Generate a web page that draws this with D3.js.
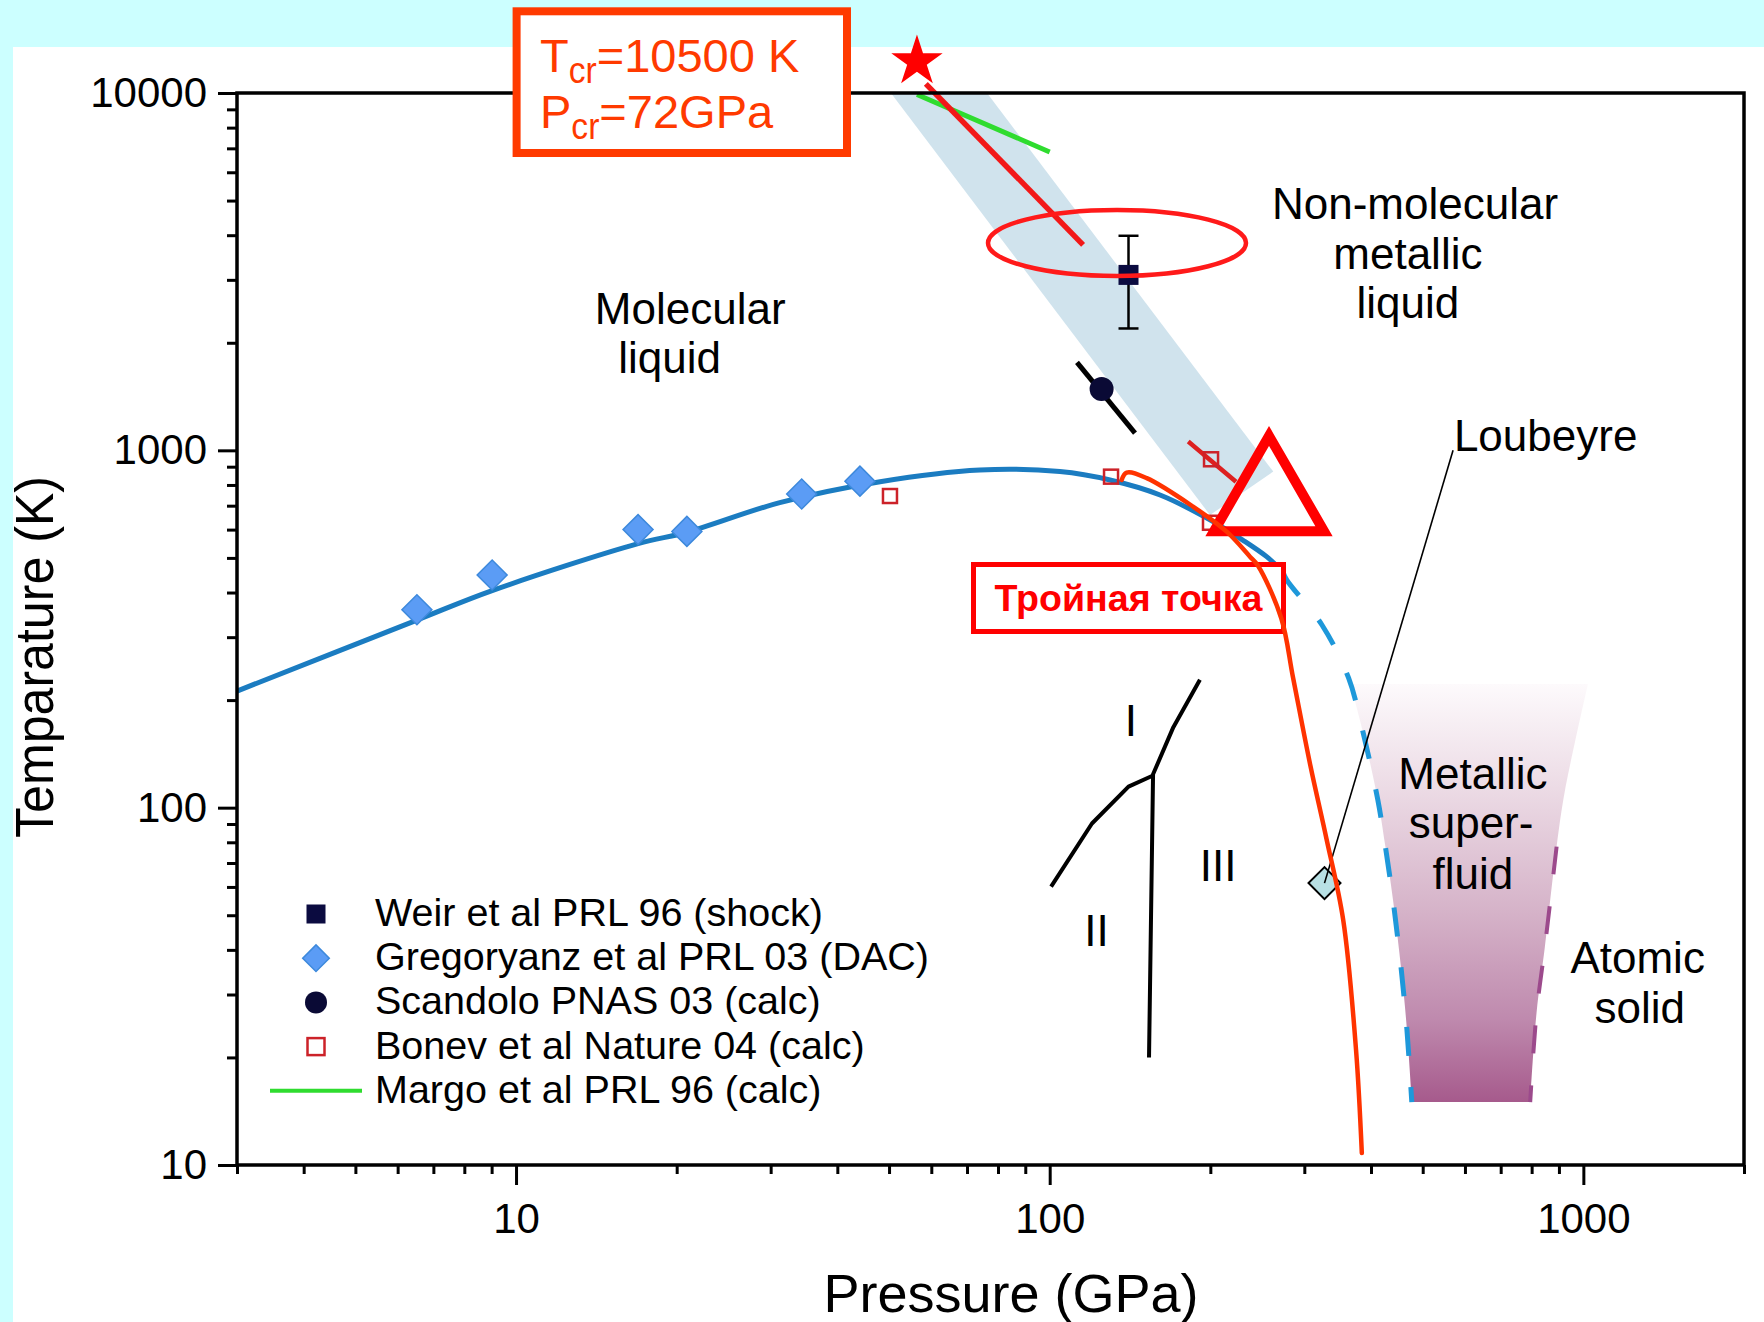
<!DOCTYPE html>
<html><head><meta charset="utf-8">
<script src="https://cdn.jsdelivr.net/npm/d3@7"></script>
<style>
body{margin:0;background:#ccffff;}
svg{display:block;}
text{font-family:"Liberation Sans",Arial,Helvetica,sans-serif;}
</style>
</head><body>
<svg id="c" width="1764" height="1322"></svg>
<script>
// ---------------- data ----------------
const xMajorTicks = [10, 100, 1000];
const xMinorTicks = [3,4,5,6,7,8,9,20,30,40,50,60,70,80,90,200,300,400,500,600,700,800,900,2000];
const yMajorTicks = [10, 100, 1000, 10000];
const yMinorTicks = [20,30,40,50,60,70,80,90,200,300,400,500,600,700,800,900,2000,3000,4000,5000,6000,7000,8000,9000];

// melting line (solid part and dashed extrapolation), [P GPa, T K]
const meltingSolid = [[3,212],[6.52,335],[9.02,405],[16.93,548],[20.9,590],[31.2,714],[48.1,817],[74,881],[104.5,872],[129.7,826],[161,750],[199.7,639],[230,561],[255,504],[273.5,457]];
const meltingDashed = [[273.5,457],[278,434],[324,324],[363,231],[386,164],[412,105],[425,79],[440,55],[456,35],[467,24],[477,15]];
// orange-red curve
const orangeCurve = [[136.4,826],[139.4,866],[152,836],[185.6,696],[214.6,592],[237.3,504],[245.5,476],[271.6,339],[285.8,231],[308,131],[330,82],[354.8,48.5],[375,21],[384.5,10.8]];
// shaded band (liquid-liquid transition)
const bandPoly = [[50.4,10000],[76.3,10000],[262.4,872],[199.7,659]];
// metallic superfluid region
const superfluidLeft = [[366,222],[386,164],[412,105],[425,79],[440,55],[456,35],[467,24],[477,15]];
const superfluidRight = [[795,15],[817,26.6],[847,40.8],[891,77.8],[924,112],[1020,222]];
const superfluidDashed = [[891,77.8],[847,40.8],[817,26.6],[795,15]];
// solid phase boundaries
const phaseI_III = [[191.2,228],[170.5,168],[156.2,124],[153.5,20]];
const phaseI_II = [[100.6,60.1],[120,90.3],[140.5,114.5],[156.2,123]];
// experimental / calc points
const gregoryanz = [[6.52,358],[9.02,448],[16.93,600],[20.9,593],[34.3,755],[44.1,820]];
const weir = [[140.5,3097,2193,3985]]; // P, T, Tlow, Thigh
const scandolo = [[125.1,1485]];
const scandoloLine = [[112.5,1762],[144.5,1117]];
const bonev = [[50.2,745],[130.3,844],[200.6,944],[199.7,627]];
const bonevLine = [[181.8,1058],[223.4,817]];
const margo = [[56.4,9900],[100,6840]];
const criticalLine = [[58.6,10605],[115.5,3760]];
const criticalPoint = [[56.4,12250]];
const loubeyre = [[327.3,61.5]];
const loubeyreLeader = [[327.3,61.5],[570,1000]];
const triplePoint = [[257.6,729]];
const ellipseCenter = [[133.7,3806]];

// region labels: text, P, T, anchor
const regionLabels = [
  ["Molecular",21.2,2258,"middle"],["liquid",19.4,1647,"middle"],
  ["Non-molecular",483.6,4426,"middle"],["metallic",469,3227,"middle"],["liquid",469,2347,"middle"],
  ["Loubeyre",572,998,"start"],
  ["Metallic",621,113.1,"middle"],["super-",616,82.4,"middle"],["fluid",621,59.4,"middle"],
  ["Atomic",1264,34.4,"middle"],["solid",1276,24.9,"middle"],
  ["I",142,158.7,"middle"],["II",122.4,40.9,"middle"],["III",206.8,62.4,"middle"]
];
const legendItems = ["Weir et al PRL 96 (shock)","Gregoryanz et al PRL 03 (DAC)","Scandolo PNAS 03 (calc)","Bonev et al Nature 04 (calc)","Margo et al PRL 96 (calc)"];

// ---------------- drawing ----------------
const W = 1764, H = 1322;
const svg = d3.select("#c");
const FONT = "'Liberation Sans',Arial,Helvetica,sans-serif";
svg.append("rect").attr("width",W).attr("height",H).attr("fill","#ccffff");
svg.append("rect").attr("x",13).attr("y",47).attr("width",W-13).attr("height",H-47).attr("fill","#ffffff");

const x = d3.scaleLog().domain([3,2000]).range([237,1744]);
const y = d3.scaleLog().domain([10,10000]).range([1165,93]);

const defs = svg.append("defs");
const grad = defs.append("linearGradient").attr("id","pinkGrad").attr("gradientUnits","userSpaceOnUse")
  .attr("x1",0).attr("x2",0).attr("y1",y(222)).attr("y2",y(15));
[[0,"#fdfafc"],[0.25,"#ecdbe5"],[0.55,"#d5b2c8"],[0.8,"#bf8aae"],[1,"#a65a8c"]].forEach(s=>{
  grad.append("stop").attr("offset",s[0]).attr("stop-color",s[1]);
});

const lin = d3.line().x(d=>x(d[0])).y(d=>y(d[1]));
const smooth = d3.line().x(d=>x(d[0])).y(d=>y(d[1])).curve(d3.curveCatmullRom.alpha(0.5));
const closed = d3.line().x(d=>x(d[0])).y(d=>y(d[1])).curve(d3.curveLinearClosed);

const g = svg.append("g");

// band
g.append("path").attr("d",closed(bandPoly)).attr("fill","#d0e3ed");

// superfluid region
const pinkPath = smooth(superfluidLeft) + "L" + smooth(superfluidRight).slice(1) + "Z";
g.append("path").attr("d",pinkPath).attr("fill","url(#pinkGrad)");

// melting curve
g.append("path").attr("d",smooth(meltingSolid)).attr("fill","none").attr("stroke","#1b7cc1").attr("stroke-width",5);
g.append("path").attr("d",smooth(meltingDashed)).attr("fill","none").attr("stroke","#1e98da").attr("stroke-width",5)
  .attr("stroke-dasharray","29,31");
// superfluid right boundary
g.append("path").attr("d",smooth(superfluidDashed)).attr("fill","none").attr("stroke","#9c4a8c").attr("stroke-width",4)
  .attr("stroke-dasharray","28,32");

// solid phase lines
[phaseI_III, phaseI_II].forEach(p=>{
  g.append("path").attr("d",lin(p)).attr("fill","none").attr("stroke","#000").attr("stroke-width",4).attr("stroke-linejoin","round");
});

// Margo line
g.append("path").attr("d",lin(margo)).attr("stroke","#2fdc2f").attr("stroke-width",5).attr("fill","none");
// critical line
g.append("path").attr("d",lin(criticalLine)).attr("stroke","#f21818").attr("stroke-width",5.5).attr("fill","none");
// Scandolo line
g.append("path").attr("d",lin(scandoloLine)).attr("stroke","#000").attr("stroke-width",5).attr("fill","none");
// Bonev line
g.append("path").attr("d",lin(bonevLine)).attr("stroke","#dd2020").attr("stroke-width",4.5).attr("fill","none");

// Gregoryanz diamonds
const sq = d3.symbol().type(d3.symbolSquare);
g.selectAll(".greg").data(gregoryanz).join("path")
  .attr("d",sq.size(450)())
  .attr("transform",d=>`translate(${x(d[0])},${y(d[1])}) rotate(45)`)
  .attr("fill","#5b9cf5").attr("stroke","#3d89dc").attr("stroke-width",1.5);

// Bonev open squares
g.selectAll(".bon").data(bonev).join("rect")
  .attr("x",d=>x(d[0])-7).attr("y",d=>y(d[1])-7).attr("width",14).attr("height",14)
  .attr("fill","none").attr("stroke","#cc2229").attr("stroke-width",2.5);

// Scandolo circle
g.selectAll(".sc").data(scandolo).join("circle")
  .attr("cx",d=>x(d[0])).attr("cy",d=>y(d[1])).attr("r",12).attr("fill","#0a0a35");

// Weir with error bar
weir.forEach(d=>{
  const cx = x(d[0]);
  g.append("line").attr("x1",cx).attr("x2",cx).attr("y1",y(d[3])).attr("y2",y(d[2])).attr("stroke","#000").attr("stroke-width",2.5);
  [d[2],d[3]].forEach(v=>g.append("line").attr("x1",cx-10).attr("x2",cx+10).attr("y1",y(v)).attr("y2",y(v)).attr("stroke","#000").attr("stroke-width",2.5));
  g.append("rect").attr("x",cx-10).attr("y",y(d[1])-10).attr("width",20).attr("height",20).attr("fill","#0b0b40");
});

// ellipse
ellipseCenter.forEach(d=>{
  g.append("ellipse").attr("cx",x(d[0])).attr("cy",y(d[1])).attr("rx",129).attr("ry",33)
    .attr("fill","none").attr("stroke","#ff1a1a").attr("stroke-width",4.5);
});

// triple point triangle
g.selectAll(".tri").data(triplePoint).join("path")
  .attr("d",d3.symbol().type(d3.symbolTriangle).size(5238)())
  .attr("transform",d=>`translate(${x(d[0])},${y(d[1])})`)
  .attr("fill","none").attr("stroke","#ff0000").attr("stroke-width",10).attr("stroke-linejoin","miter");

// Loubeyre diamond + leader
g.selectAll(".lb").data(loubeyre).join("path")
  .attr("d",sq.size(512)())
  .attr("transform",d=>`translate(${x(d[0])},${y(d[1])}) rotate(45)`)
  .attr("fill","#b8e0e4").attr("stroke","#000").attr("stroke-width",2);
g.append("path").attr("d",lin(loubeyreLeader)).attr("stroke","#000").attr("stroke-width",1.6).attr("fill","none");

// "Тройная точка" box
g.append("rect").attr("x",973.5).attr("y",564.5).attr("width",310).attr("height",67)
  .attr("fill","#fff").attr("stroke","#ff0000").attr("stroke-width",5);
g.append("text").attr("x",994.5).attr("y",611).attr("font-size",36).attr("font-weight","bold")
  .attr("fill","#ff0000").attr("textLength",268).attr("lengthAdjust","spacingAndGlyphs").text("Тройная точка");

// orange curve (on top)
g.append("path").attr("d",smooth(orangeCurve)).attr("fill","none").attr("stroke","#ff3300").attr("stroke-width",4.5).attr("stroke-linecap","round");

// region labels
g.selectAll(".lab").data(regionLabels).join("text")
  .attr("x",d=>x(d[1])).attr("y",d=>y(d[2])).attr("text-anchor",d=>d[3])
  .attr("font-size",44).attr("fill","#000").text(d=>d[0]);

// ---------------- axes ----------------
const axG = svg.append("g");
const xMaj = axG.append("g").attr("transform","translate(0,1165)")
  .call(d3.axisBottom(x).tickValues(xMajorTicks).tickFormat(d3.format("d")).tickSize(20).tickPadding(18));
const xMin = axG.append("g").attr("transform","translate(0,1165)")
  .call(d3.axisBottom(x).tickValues(xMinorTicks).tickFormat("").tickSize(9));
const yMaj = axG.append("g").attr("transform","translate(237,0)")
  .call(d3.axisLeft(y).tickValues(yMajorTicks).tickFormat(d3.format("d")).tickSize(19).tickPadding(11));
const yMin = axG.append("g").attr("transform","translate(237,0)")
  .call(d3.axisLeft(y).tickValues(yMinorTicks).tickFormat("").tickSize(10));
[xMaj,xMin,yMaj,yMin].forEach(a=>{
  a.select(".domain").remove();
  a.selectAll(".tick line").attr("stroke","#000").attr("stroke-width",3);
  a.selectAll(".tick text").attr("font-size",42).attr("font-family",FONT).attr("fill","#000");
});
axG.append("rect").attr("x",237).attr("y",93).attr("width",1744-237).attr("height",1165-93)
  .attr("fill","none").attr("stroke","#000").attr("stroke-width",3.5);

// axis titles
svg.append("text").attr("x",1011).attr("y",1312).attr("text-anchor","middle").attr("font-size",54)
  .attr("fill","#000").text("Pressure (GPa)");
svg.append("text").attr("transform","translate(53,657) rotate(-90)").attr("text-anchor","middle")
  .attr("font-size",54).attr("textLength",362).attr("lengthAdjust","spacingAndGlyphs").attr("fill","#000").text("Temparature (K)");

// ---------------- legend ----------------
const lg = svg.append("g");
const rowY = i => 914 + i*44.2;
lg.append("rect").attr("x",316-9.5).attr("y",rowY(0)-9.5).attr("width",19).attr("height",19).attr("fill","#0b0b40");
lg.append("path").attr("d",sq.size(354)()).attr("transform",`translate(316,${rowY(1)}) rotate(45)`)
  .attr("fill","#5b9cf5").attr("stroke","#3d89dc").attr("stroke-width",1.5);
lg.append("circle").attr("cx",316).attr("cy",rowY(2)).attr("r",11).attr("fill","#0a0a35");
lg.append("rect").attr("x",316-8.5).attr("y",rowY(3)-8.5).attr("width",17).attr("height",17)
  .attr("fill","none").attr("stroke","#cc2229").attr("stroke-width",2.5);
lg.append("line").attr("x1",270).attr("x2",362).attr("y1",rowY(4)).attr("y2",rowY(4)).attr("stroke","#2fdc2f").attr("stroke-width",4);
lg.selectAll(".lt").data(legendItems).join("text")
  .attr("x",375).attr("y",(d,i)=>rowY(i)+12).attr("font-size",39.5).attr("fill","#000").text(d=>d);

// ---------------- header box + critical point ----------------
const hb = svg.append("g");
hb.append("rect").attr("x",516.6).attr("y",11.3).attr("width",330.4).attr("height",141.7)
  .attr("fill","#fff").attr("stroke","#ff3a00").attr("stroke-width",8);
const t1 = hb.append("text").attr("x",540).attr("y",72).attr("font-size",47).attr("fill","#ff3a00");
t1.append("tspan").text("T");
t1.append("tspan").attr("dy",11).attr("font-size",36).attr("textLength",28).attr("lengthAdjust","spacingAndGlyphs").text("cr");
t1.append("tspan").attr("dy",-11).text("=10500 K");
const t2 = hb.append("text").attr("x",540).attr("y",128).attr("font-size",47).attr("fill","#ff3a00");
t2.append("tspan").text("P");
t2.append("tspan").attr("dy",11).attr("font-size",36).attr("textLength",28).attr("lengthAdjust","spacingAndGlyphs").text("cr");
t2.append("tspan").attr("dy",-11).text("=72GPa");

svg.selectAll(".star").data(criticalPoint).join("path")
  .attr("d",d3.symbol().type(d3.symbolStar).size(818)())
  .attr("transform",d=>`translate(${x(d[0])},${y(d[1])})`)
  .attr("fill","#ff0000");
</script>
</body></html>
